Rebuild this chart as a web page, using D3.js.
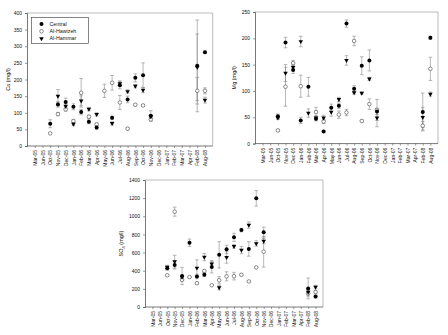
<!DOCTYPE html>
<html><head><meta charset="utf-8">
<script src="https://cdn.jsdelivr.net/npm/d3@7"></script>
<style>body{margin:0;background:#fff}svg{display:block;font-family:'Liberation Sans',Arial,sans-serif}</style>
</head><body><svg id="c" width="448" height="335"></svg>
<script>
const categories = ["Mar-05","Jun-05","Oct-05","Nov-05","Dec-05","Jan-06","Feb-06","Mar-06","Apr-06","May-06","Jun-06","Jul-06","Aug-06","Sep-06","Oct-06","Nov-06","Dec-06","Jan-07","Feb-07","Mar-07","Apr-07","Feb-08","Aug-08"];
const seriesNames = ["Central","Al-Hawizeh","Al-Hammar"];
const _ = null;
// Ca (mg/l)
const caCentral     = [_,_,67,125,132,118,102,73,56,_,85,183,140,205,213,91,_,_,_,_,_,241,282];
const caCentralErr  = [_,_,12,8,12,9,8,6,6,_,5,11,10,12,37,15,_,_,_,_,_,138,4];
const caHawizeh     = [_,_,38,96,110,75,160,88,65,166,190,131,52,124,122,80,_,_,_,_,_,166,166];
const caHawizehErr  = [_,_,0,5,5,4,43,5,4,20,22,21,3,3,3,5,_,_,_,_,_,40,9];
const caHammar      = [_,_,_,150,120,66,136,111,95,_,68,188,164,180,168,88,_,_,_,_,_,237,138];
const caHammarErr   = [_,_,_,20,8,5,15,5,5,_,5,8,5,5,8,6,_,_,_,_,_,100,9];
const caTicks = [0,50,100,150,200,250,300,350,400];
// Mg (mg/l)
const mgCentral     = [_,_,52,192,140,44,108,47,23,68,72,228,104,148,158,61,_,_,_,_,_,60,201];
const mgCentralErr  = [_,_,4,10,7,6,18,4,2,7,5,7,6,17,20,6,_,_,_,_,_,36,3];
const mgHawizeh     = [_,_,25,108,153,109,_,60,42,_,55,59,195,43,75,64,_,_,_,_,_,34,142];
const mgHawizehErr  = [_,_,2,37,5,21,_,9,4,_,7,6,9,2,10,20,_,_,_,_,_,8,22];
const mgHammar      = [_,_,49,134,145,194,58,49,49,60,84,158,97,96,123,49,_,_,_,_,_,50,94];
const mgHammarErr   = [_,_,3,16,4,10,8,4,5,8,4,9,3,2,3,17,_,_,_,_,_,19,4];
const mgTicks = [0,50,100,150,200,250];
// SO4 (mg/l)
const so4Central    = [_,_,427,463,342,709,336,355,440,575,636,768,848,640,1198,825,_,_,_,_,_,205,115];
const so4CentralErr = [_,_,22,45,95,40,25,20,65,145,45,45,20,80,85,55,_,_,_,_,_,115,15];
const so4Hawizeh    = [_,_,350,1051,300,330,262,397,240,295,338,340,355,282,437,610,_,_,_,_,_,150,165];
const so4HawizehErr = [_,_,5,50,10,5,10,10,5,40,50,42,10,5,5,170,_,_,_,_,_,30,15];
const so4Hammar     = [_,_,440,500,330,_,430,550,475,213,548,668,628,903,700,727,_,_,_,_,_,165,220];
const so4HammarErr  = [_,_,20,70,20,_,90,40,35,25,65,20,40,35,30,30,_,_,_,_,_,30,20];
const so4Ticks = [0,200,400,600,800,1000,1200,1400];

const svg = d3.select("#c");
const FS = 5;

function panel(cfg){
  const {x0,x1,y0,y1,max,ticks,series,title,titleX,titleSub,legend} = cfg;
  const g = svg.append("g");
  const x = d3.scalePoint().domain(categories).range([x0,x1]).padding(1);
  const y = d3.scaleLinear().domain([0,max]).range([y0,y1]);
  g.append("path").attr("d",`M${x0},${y1}H${x1}V${y0}`).attr("fill","none").attr("stroke","#aaa").attr("stroke-width",0.8);
  const ya = g.append("g").attr("transform",`translate(${x0},0)`)
    .call(d3.axisLeft(y).tickValues(ticks).tickFormat(d3.format("d")).tickSize(2).tickPadding(3));
  ya.select(".domain").attr("stroke","#555").attr("stroke-width",0.8);
  ya.selectAll(".tick line").attr("stroke","#555").attr("stroke-width",0.6);
  ya.selectAll("text").attr("font-size",FS).attr("font-family","'Liberation Sans',Arial,sans-serif").attr("fill","#111");
  const xa = g.append("g").attr("transform",`translate(0,${y0})`)
    .call(d3.axisBottom(x).tickSize(2).tickPadding(2).tickSizeOuter(0));
  xa.select(".domain").attr("d",`M${x0},0H${x1}`).attr("stroke","#555").attr("stroke-width",0.8);
  xa.selectAll(".tick line").attr("stroke","#555").attr("stroke-width",0.6);
  xa.selectAll("text").attr("font-size",FS).attr("font-family","'Liberation Sans',Arial,sans-serif").attr("fill","#111")
    .attr("transform","rotate(-90)").attr("text-anchor","end").attr("dy","0.35em").attr("x",-4).attr("y",0);
  const t = g.append("text").attr("transform",`translate(${titleX},${(y0+y1)/2}) rotate(-90)`)
    .attr("text-anchor","middle").attr("font-size",5.5).attr("fill","#111");
  if(titleSub){
    t.append("tspan").text(title[0]);
    t.append("tspan").text(titleSub).attr("font-size",4).attr("dy",1.5);
    t.append("tspan").text(title[1]).attr("dy",-1.5);
  } else t.text(title);
  series.forEach(s=>{
    const pts = categories.map((c,i)=>({c,v:s.v[i],e:s.e[i]})).filter(d=>d.v!=null && d.e!=null && d.e>0);
    const eg = g.append("g").attr("stroke","#888").attr("stroke-width",0.6).attr("fill","none");
    pts.forEach(d=>{
      const cx = x(d.c), ya_=y(d.v+d.e), yb=y(Math.max(0,d.v-d.e));
      eg.append("path").attr("d",`M${cx},${ya_}V${yb}M${cx-1.8},${ya_}H${cx+1.8}M${cx-1.8},${yb}H${cx+1.8}`);
    });
  });
  [1,2,0].forEach(k=>{
    const s = series[k];
    const pts = categories.map((c,i)=>({c,v:s.v[i]})).filter(d=>d.v!=null);
    pts.forEach(d=>drawMarker(g,k,x(d.c),y(d.v)));
  });
  if(legend){
    const lg = g.append("g");
    lg.append("rect").attr("x",31.5).attr("y",17.5).attr("width",57).attr("height",26)
      .attr("fill","#fff").attr("stroke","#333").attr("stroke-width",0.6);
    seriesNames.forEach((n,k)=>{
      const yy = 24+k*7.3;
      drawMarker(lg,k,41.5,yy);
      lg.append("text").attr("x",49.5).attr("y",yy).attr("dy","0.35em").attr("font-size",5.3).attr("fill","#111").text(n);
    });
  }
}
function drawMarker(g,k,cx,cy){
  if(k===0) g.append("circle").attr("cx",cx).attr("cy",cy).attr("r",2).attr("fill","#000");
  else if(k===1) g.append("circle").attr("cx",cx).attr("cy",cy).attr("r",1.8).attr("fill","#fff").attr("stroke","#444").attr("stroke-width",0.6);
  else g.append("path").attr("d",d3.symbol(d3.symbolTriangle,9)()).attr("transform",`translate(${cx},${cy}) rotate(180)`).attr("fill","#000");
}

panel({x0:27,x1:212.7,y0:146,y1:13,max:400,ticks:caTicks,title:"Ca (mg/l)",titleX:10,legend:true,
  series:[{v:caCentral,e:caCentralErr},{v:caHawizeh,e:caHawizehErr},{v:caHammar,e:caHammarErr}]});
panel({x0:255,x1:438,y0:143.6,y1:12,max:250,ticks:mgTicks,title:"Mg (mg/l)",titleX:236,
  series:[{v:mgCentral,e:mgCentralErr},{v:mgHawizeh,e:mgHawizehErr},{v:mgHammar,e:mgHammarErr}]});
panel({x0:145,x1:323,y0:307,y1:180,max:1400,ticks:so4Ticks,title:["SO"," (mg/l)"],titleSub:"4",titleX:123,
  series:[{v:so4Central,e:so4CentralErr},{v:so4Hawizeh,e:so4HawizehErr},{v:so4Hammar,e:so4HammarErr}]});
</script></body></html>
